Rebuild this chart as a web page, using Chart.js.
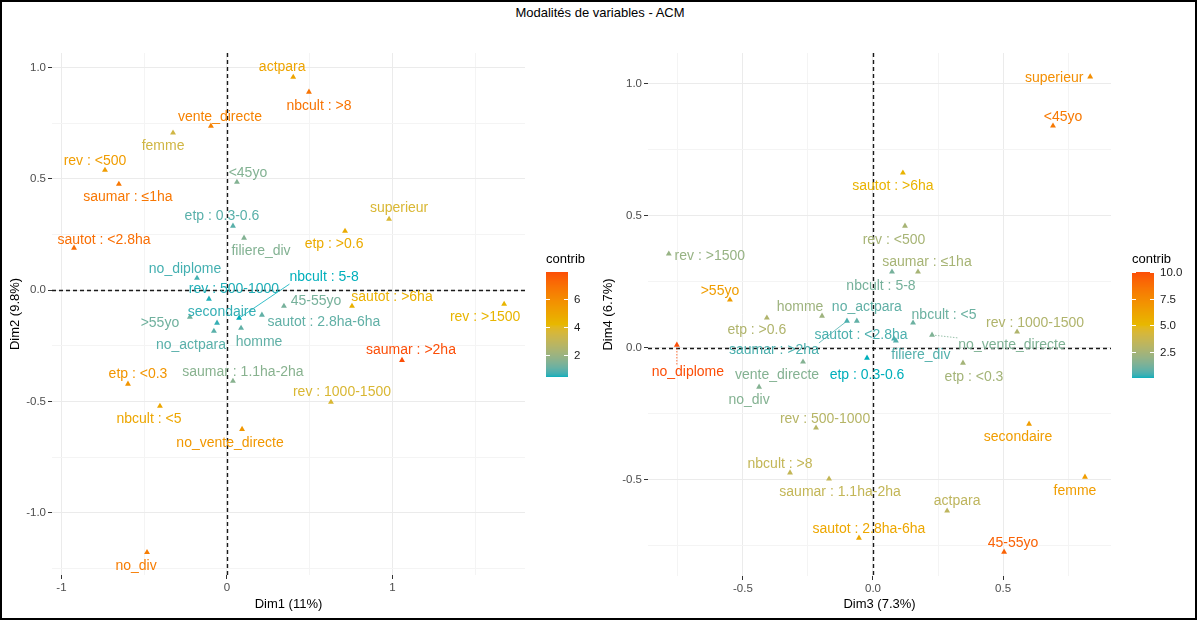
<!DOCTYPE html>
<html lang="fr">
<head>
<meta charset="utf-8">
<title>Modalités de variables - ACM</title>
<script src="https://cdn.jsdelivr.net/npm/chart.js@4.4.1/dist/chart.umd.min.js"></script>
<style>
  html, body { margin: 0; padding: 0; background: #fff; }
  #wrap { position: relative; width: 1200px; height: 622px; overflow: hidden; font-family: "Liberation Sans", Arial, sans-serif; }
  #frame { position: absolute; left: 0; top: 0; width: 1197px; height: 620px; box-sizing: border-box; border: 2px solid #000; pointer-events: none; }
  #title { position: absolute; left: 0; top: 5px; width: 1200px; text-align: center; font-size: 13px; color: #000; }
  canvas { position: absolute; top: 0; }
</style>
</head>
<body>
<div id="wrap">
  <div id="title">Modalités de variables - ACM</div>
  <canvas id="plot12" width="600" height="622" style="left:0"></canvas>
  <canvas id="plot34" width="600" height="622" style="left:600px"></canvas>
  <div id="frame"></div>
</div>
<script>
// Modalités (même ordre pour toutes les séries)
const modalites = [
  'actpara', 'no_actpara', 'nbcult : <5', 'nbcult : 5-8', 'nbcult : >8',
  'vente_directe', 'no_vente_directe', 'filiere_div', 'no_div', 'femme',
  'homme', '<45yo', '45-55yo', '>55yo', 'no_diplome',
  'secondaire', 'superieur', 'etp : <0.3', 'etp : 0.3-0.6', 'etp : >0.6',
  'rev : <500', 'rev : 500-1000', 'rev : 1000-1500', 'rev : >1500', 'saumar : ≤1ha',
  'saumar : 1.1ha-2ha', 'saumar : >2ha', 'sautot : <2.8ha', 'sautot : 2.8ha-6ha', 'sautot : >6ha'
];

// Coordonnées Dim1 / Dim2
const dim1 = [0.400, -0.079, -0.405, 0.073, 0.495, -0.097, 0.091, 0.103, -0.483, -0.326,
              0.085, 0.060, 0.344, -0.224, -0.181, -0.060, 0.979, -0.598, 0.036, 0.713,
              -0.737, -0.109, 0.628, 1.674, -0.653, 0.036, 1.057, -0.924, 0.211, 0.755];
const dim2 = [0.957, -0.184, -0.521, -0.126, 0.890, 0.737, -0.625, 0.234, -1.178, 0.706,
              -0.171, 0.485, -0.072, -0.121, 0.054, -0.148, 0.319, -0.422, 0.288, 0.265,
              0.539, -0.040, -0.503, -0.063, 0.476, -0.409, -0.315, 0.189, -0.112, -0.072];
const contrib12 = [5.0, 0.9, 4.9, 0.43, 6.8, 6.3, 5.5, 1.5, 6.5, 3.4,
                   1.0, 1.5, 1.3, 1.2, 0.7, 0.6, 3.7, 5.6, 0.9, 4.7,
                   5.3, 0.5, 3.7, 4.3, 6.7, 1.6, 7.9, 7.0, 1.0, 4.5];

// Coordonnées Dim3 / Dim4
const dim3 = [0.285, -0.062, 0.154, 0.073, -0.319, -0.269, 0.227, 0.088, -0.438, 0.815,
              -0.196, 0.692, 0.504, -0.550, -0.754, 0.600, 0.835, 0.346, -0.023, -0.408,
              0.123, -0.219, 0.554, -0.785, 0.173, -0.169, -0.100, 0.081, -0.054, 0.115];
const dim4 = [-0.617, 0.102, 0.095, 0.288, -0.473, -0.053, 0.049, 0.027, -0.148, -0.489,
              0.121, 0.841, -0.773, 0.182, 0.011, -0.288, 1.027, -0.057, -0.038, 0.114,
              0.462, -0.303, 0.061, 0.356, 0.288, -0.496, 0.102, 0.034, -0.720, 0.663];
const contrib34 = [3.3, 0.8, 1.0, 1.2, 3.5, 1.5, 1.4, 0.6, 1.5, 6.5,
                   2.2, 8.3, 9.3, 6.5, 10.0, 6.5, 7.3, 2.4, 0.05, 2.8,
                   2.5, 3.0, 2.8, 2.0, 2.5, 3.5, 0.5, 0.5, 6.0, 5.3];

// Graduations
const dim1Ticks = [-1, -0.5, 0, 0.5, 1, 1.5];
const dim1TickLabels = ['-1', '', '0', '', '1', ''];
const dim2Ticks = [-1.25, -1, -0.75, -0.5, -0.25, 0, 0.25, 0.5, 0.75, 1];
const dim2TickLabels = ['', '-1.0', '', '-0.5', '', '0.0', '', '0.5', '', '1.0'];
const dim3Ticks = [-0.75, -0.5, -0.25, 0, 0.25, 0.5, 0.75];
const dim3TickLabels = ['', '-0.5', '', '0.0', '', '0.5', ''];
const dim4Ticks = [-0.75, -0.5, -0.25, 0, 0.25, 0.5, 0.75, 1];
const dim4TickLabels = ['', '-0.5', '', '0.0', '', '0.5', '', '1.0'];
const contribTicks12 = [2, 4, 6];
const contribTickLabels12 = ['2', '4', '6'];
const contribTicks34 = [2.5, 5, 7.5, 10];
const contribTickLabels34 = ['2.5', '5.0', '7.5', '10.0'];

// Placement des étiquettes (décalage en px depuis le point) + segments
const labelShift12 = [[-11,-10],[-23,14],[-11,13],[85,-41],[10,14],[9,-9],[-12,14],[17,13],[-11,14],[-10,13],
                      [18,14],[11,-9],[32,-5],[-30,6],[-12,-9],[5,-11],[10,-11],[10,-10],[-11,-10],[-11,13],
                      [-10,-9],[25,-10],[11,-10],[-19,13],[9,13],[10,-9],[9,-10],[30,-8],[62,7],[40,-9]];
const labelShift34 = [[10,-10],[10,-14],[31,-8],[-11,14],[-10,-9],[-26,13],[80,10],[25,14],[-10,13],[-10,14],
                      [-22,-9],[10,-9],[9,-9],[-10,-9],[11,27],[-11,13],[-36,1],[11,14],[0,17],[-10,12],
                      [-11,14],[9,-9],[18,-9],[41,2],[9,-10],[11,13],[-73,29],[-33,-4],[10,-9],[-10,13]];
const segments12 = { 3: 'solid' };
const segments34 = { 6: 'dotted', 14: 'dotted', 26: 'solid' };

// Dégradé factoextra (interpolé en Lab comme ggplot)
const gradientCols = ['#00AFBB', '#E7B800', '#FC4E07'];

function hexToRgb(h) {
    const n = parseInt(h.slice(1), 16);
    return [(n >> 16) & 255, (n >> 8) & 255, n & 255];
}
function rgbToLab(rgb) {
    const f = c => { c /= 255; return c <= 0.04045 ? c / 12.92 : Math.pow((c + 0.055) / 1.055, 2.4); };
    const [R, G, B] = rgb.map(f);
    const g3 = t => t > 0.008856 ? Math.cbrt(t) : 7.787 * t + 16 / 116;
    const X = g3((R * 0.4124 + G * 0.3576 + B * 0.1805) / 0.95047);
    const Y = g3(R * 0.2126 + G * 0.7152 + B * 0.0722);
    const Z = g3((R * 0.0193 + G * 0.1192 + B * 0.9505) / 1.08883);
    return [116 * Y - 16, 500 * (X - Y), 200 * (Y - Z)];
}
function labToRgb([L, a, b]) {
    let Y = (L + 16) / 116, X = a / 500 + Y, Z = Y - b / 200;
    const h = t => t * t * t > 0.008856 ? t * t * t : (t - 16 / 116) / 7.787;
    X = h(X) * 0.95047; Y = h(Y); Z = h(Z) * 1.08883;
    const k = c => {
        c = c > 0.0031308 ? 1.055 * Math.pow(c, 1 / 2.4) - 0.055 : 12.92 * c;
        return Math.round(Math.min(1, Math.max(0, c)) * 255);
    };
    return [k(X * 3.2406 - Y * 1.5372 - Z * 0.4986), k(-X * 0.9689 + Y * 1.8758 + Z * 0.0415), k(X * 0.0557 - Y * 0.2040 + Z * 1.0570)];
}
const labStops = gradientCols.map(c => rgbToLab(hexToRgb(c)));

function contribColor(v, lo, hi) {
    let t = Math.min(1, Math.max(0, (v - lo) / (hi - lo)));
    const seg = t < 0.5 ? 0 : 1;
    const u = t < 0.5 ? t * 2 : (t - 0.5) * 2;
    const a = labStops[seg], b = labStops[seg + 1];
    const [r, g, bl] = labToRgb(a.map((x, i) => x + (b[i] - x) * u));
    return `rgb(${r},${g},${bl})`;
}

const FONT = '"Liberation Sans", Arial, sans-serif';

// Lignes pointillées en 0
const zeroLines = {
    id: 'zeroLines',
    beforeDatasetsDraw(chart) {
        const { ctx, chartArea: a, scales: { x, y } } = chart;
        ctx.save();
        ctx.strokeStyle = '#1a1a1a';
        ctx.lineWidth = 1.4;
        ctx.setLineDash([4, 3]);
        const px = Math.round(x.getPixelForValue(0)) + 0.5;
        const py = Math.round(y.getPixelForValue(0)) + 0.5;
        ctx.beginPath();
        ctx.moveTo(px, a.top); ctx.lineTo(px, a.bottom);
        ctx.moveTo(a.left, py); ctx.lineTo(a.right, py);
        ctx.stroke();
        ctx.restore();
    }
};

// Étiquettes des modalités
const pointLabels = {
    id: 'pointLabels',
    afterDatasetsDraw(chart, args, opts) {
        const { ctx } = chart;
        const meta = chart.getDatasetMeta(0);
        ctx.save();
        ctx.font = `14px ${FONT}`;
        ctx.textAlign = 'center';
        ctx.textBaseline = 'middle';
        meta.data.forEach((pt, i) => {
            const [dx, dy] = opts.shifts[i];
            const cx = pt.x + dx, cy = pt.y + dy;
            const color = opts.colors[i];
            const seg = opts.segments[i];
            if (seg) {
                const w = ctx.measureText(modalites[i]).width;
                const ex = Math.min(cx + w / 2, Math.max(cx - w / 2, pt.x));
                const ey = Math.min(cy + 7, Math.max(cy - 7, pt.y));
                ctx.strokeStyle = color;
                ctx.lineWidth = 0.8;
                ctx.setLineDash(seg === 'dotted' ? [1.5, 1.5] : []);
                ctx.beginPath();
                ctx.moveTo(pt.x, pt.y);
                ctx.lineTo(ex, ey);
                ctx.stroke();
            }
            ctx.fillStyle = color;
            ctx.fillText(modalites[i], cx, cy);
        });
        ctx.restore();
    }
};

// Barre de couleur "contrib"
const contribBar = {
    id: 'contribBar',
    afterDraw(chart, args, o) {
        const { ctx } = chart;
        ctx.save();
        for (let j = 0; j < o.h; j++) {
            const v = o.hi - (o.hi - o.lo) * (j + 0.5) / o.h;
            ctx.fillStyle = contribColor(v, o.lo, o.hi);
            ctx.fillRect(o.x, o.y + j, o.w, 1);
        }
        ctx.font = `13px ${FONT}`;
        ctx.fillStyle = '#000';
        ctx.textAlign = 'left';
        ctx.textBaseline = 'middle';
        ctx.fillText('contrib', o.x, o.y - 13);
        ctx.font = `11.5px ${FONT}`;
        ctx.fillStyle = '#1a1a1a';
        o.ticks.forEach((t, i) => {
            const ty = Math.round(o.y + (o.hi - t) / (o.hi - o.lo) * o.h) + 0.5;
            ctx.strokeStyle = '#fff';
            ctx.lineWidth = 1;
            ctx.beginPath();
            ctx.moveTo(o.x, ty); ctx.lineTo(o.x + 4, ty);
            ctx.moveTo(o.x + o.w - 4, ty); ctx.lineTo(o.x + o.w, ty);
            ctx.stroke();
            ctx.fillText(o.tickLabels[i], o.x + o.w + 6, ty);
        });
        ctx.restore();
    }
};

function axis(min, max, ticks, labels, title, titlePad, fitSize, horizontal) {
    return {
        type: 'linear',
        min, max,
        afterBuildTicks: s => { s.ticks = ticks.map(v => ({ value: v })); },
        afterFit: s => { if (horizontal) s.height = fitSize; else s.width = fitSize; },
        border: { display: false },
        grid: {
            color: c => labels[c.index] ? '#EBEBEB' : '#F4F4F4',
            tickColor: c => labels[c.index] ? '#333' : 'rgba(0,0,0,0)',
            tickLength: 4,
            lineWidth: 1
        },
        ticks: {
            autoSkip: false,
            maxRotation: 0,
            padding: 2,
            color: '#4d4d4d',
            font: { family: FONT, size: 11.5 },
            callback: (v, i) => labels[i]
        },
        title: {
            display: true,
            text: title,
            color: '#000',
            font: { family: FONT, size: 13 },
            padding: titlePad
        }
    };
}

function buildPlot(id, cfg) {
    const lo = Math.min(...cfg.contrib), hi = Math.max(...cfg.contrib);
    const colors = cfg.contrib.map(v => contribColor(v, lo, hi));
    const segs = modalites.map((m, i) => cfg.segments[i] || null);
    return new Chart(document.getElementById(id), {
        type: 'scatter',
        data: {
            datasets: [{
                data: cfg.xs.map((x, i) => ({ x, y: cfg.ys[i] })),
                pointStyle: 'triangle',
                pointRadius: 3.4,
                pointBackgroundColor: colors,
                pointBorderColor: colors,
                pointBorderWidth: 0
            }]
        },
        options: {
            responsive: false,
            animation: false,
            layout: { padding: cfg.padding },
            plugins: {
                legend: { display: false },
                tooltip: { enabled: false },
                pointLabels: { shifts: cfg.shifts, colors, segments: segs },
                contribBar: Object.assign({ lo, hi }, cfg.bar)
            },
            scales: {
                x: axis(cfg.xRange[0], cfg.xRange[1], cfg.xTicks, cfg.xLabels, cfg.xTitle, { top: 0, bottom: 10 }, cfg.xFit, true),
                y: axis(cfg.yRange[0], cfg.yRange[1], cfg.yTicks, cfg.yLabels, cfg.yTitle, { top: cfg.yTitlePad, bottom: 0 }, cfg.yFit, false)
            }
        },
        plugins: [zeroLines, pointLabels, contribBar]
    });
}

buildPlot('plot12', {
    xs: dim1, ys: dim2, contrib: contrib12,
    shifts: labelShift12, segments: segments12,
    xRange: [-1.057, 1.80], yRange: [-1.28, 1.065],
    xTicks: dim1Ticks, xLabels: dim1TickLabels, xTitle: 'Dim1 (11%)',
    yTicks: dim2Ticks, yLabels: dim2TickLabels, yTitle: 'Dim2 (9.8%)',
    xFit: 47, yFit: 52, yTitlePad: 8,
    padding: { top: 53, right: 75, bottom: 0, left: 0 },
    bar: { x: 546, y: 272, w: 22, h: 105, ticks: contribTicks12, tickLabels: contribTickLabels12 }
});

buildPlot('plot34', {
    xs: dim3, ys: dim4, contrib: contrib34,
    shifts: labelShift34, segments: segments34,
    xRange: [-0.865, 0.915], yRange: [-0.864, 1.117],
    xTicks: dim3Ticks, xLabels: dim3TickLabels, xTitle: 'Dim3 (7.3%)',
    yTicks: dim4Ticks, yLabels: dim4TickLabels, yTitle: 'Dim4 (6.7%)',
    xFit: 46, yFit: 48, yTitlePad: 1,
    padding: { top: 53, right: 89, bottom: 0, left: 0 },
    bar: { x: 532, y: 272, w: 22, h: 106, ticks: contribTicks34, tickLabels: contribTickLabels34 }
});
</script>
</body>
</html>
